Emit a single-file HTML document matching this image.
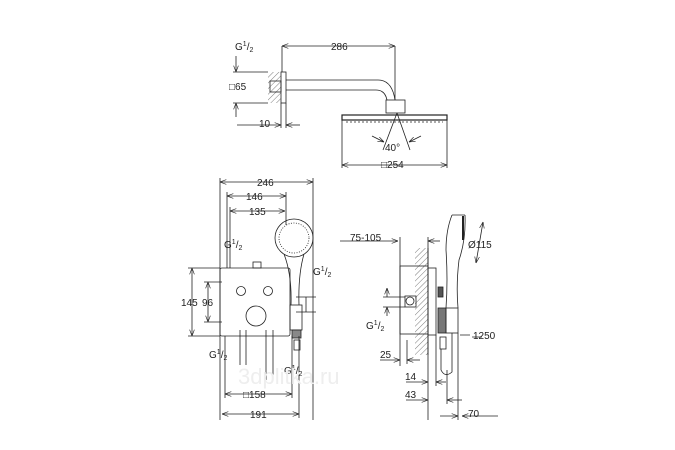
<!DOCTYPE html>
<html><head><meta charset="utf-8"><style>
html,body{margin:0;padding:0;background:#fff}
svg{display:block}
text{font-family:"Liberation Sans",sans-serif;font-size:10px;fill:#222}
</style></head><body>
<svg width="675" height="450" viewBox="0 0 675 450" xmlns="http://www.w3.org/2000/svg">
<defs>
<marker id="a" markerWidth="8" markerHeight="6" refX="8" refY="3" orient="auto-start-reverse"><path d="M0,0 L8,3 L0,6" fill="none" stroke="#222" stroke-width="0.8"/></marker>
<pattern id="h" width="4" height="4" patternUnits="userSpaceOnUse" patternTransform="rotate(45)"><line x1="0" y1="0" x2="0" y2="4" stroke="#444" stroke-width="0.7"/></pattern>
</defs>
<g stroke="#222" stroke-width="0.8" fill="none">
<!-- TOP VIEW -->
<rect x="268" y="72" width="13" height="31" fill="url(#h)" stroke="none"/>
<rect x="281" y="72" width="5" height="31"/>
<rect x="270" y="81" width="11" height="11"/>
<path d="M286,80 H378 Q392,80 395,100 M286,90 H376 Q385,90 387,100"/>
<rect x="386" y="100" width="19" height="13"/>
<rect x="342" y="115" width="105" height="5" stroke-width="1.2"/>
<path d="M346,122 H443" stroke-dasharray="2,2"/>
<line x1="282" y1="46" x2="395" y2="46" marker-start="url(#a)" marker-end="url(#a)"/>
<path d="M282,46 V72 M395,46 V100"/>
<path d="M233,72 H268 M233,103 H268"/>
<line x1="236" y1="56" x2="236" y2="72" marker-end="url(#a)"/>
<line x1="236" y1="103" x2="236" y2="117" marker-start="url(#a)"/>
<line x1="237" y1="125" x2="281" y2="125" marker-end="url(#a)"/><line x1="286" y1="125" x2="300" y2="125" marker-start="url(#a)"/>
<path d="M281,103 V128 M286,103 V128"/>
<path d="M397,113 L383,150 M397,113 L410,150"/>
<line x1="372" y1="136" x2="384" y2="142" marker-end="url(#a)"/>
<line x1="421" y1="136" x2="409" y2="142" marker-end="url(#a)"/>
<line x1="342" y1="165" x2="447" y2="165" marker-start="url(#a)" marker-end="url(#a)"/>
<path d="M342,120 V168 M447,120 V168"/>
<!-- MIDDLE VIEW -->
<rect x="220" y="268" width="70" height="68" rx="2"/>
<rect x="253" y="262" width="8" height="6"/>
<circle cx="241" cy="291" r="4.5"/><circle cx="268" cy="291" r="4.5"/>
<circle cx="256" cy="316" r="10"/>
<circle cx="294" cy="238" r="19"/><circle cx="294" cy="238" r="15" stroke-dasharray="1,1.5"/>
<path d="M284,254 Q292,275 291,305 M304,254 Q298,275 299,305"/>
<rect x="290" y="305" width="12" height="25"/>
<rect x="292" y="330" width="9" height="8" fill="#888"/>
<rect x="294" y="340" width="6" height="10"/>
<line x1="220" y1="182" x2="313" y2="182" marker-start="url(#a)" marker-end="url(#a)"/>
<line x1="227" y1="196" x2="286" y2="196" marker-start="url(#a)" marker-end="url(#a)"/>
<line x1="230" y1="211" x2="285" y2="211" marker-start="url(#a)" marker-end="url(#a)"/>
<path d="M220,178 V420 M227,192 V268 M230,207 V268 M313,178 V420 M286,192 V225"/>
<line x1="192" y1="268" x2="192" y2="336" marker-start="url(#a)" marker-end="url(#a)"/>
<line x1="208" y1="282" x2="208" y2="322" marker-start="url(#a)" marker-end="url(#a)"/>
<path d="M188,268 H220 M188,336 H220 M204,282 H222 M204,322 H222"/>
<line x1="225" y1="394" x2="292" y2="394" marker-start="url(#a)" marker-end="url(#a)"/>
<line x1="222" y1="414" x2="299" y2="414" marker-start="url(#a)" marker-end="url(#a)"/>
<path d="M225,336 V398 M292,336 V398 M299,336 V418 M240,330 V365 M246,330 V365 M266,330 V380 M273,330 V380"/>
<path d="M306,297 V312 M296,297 H316 M296,312 H316"/>
<!-- RIGHT VIEW -->
<rect x="415" y="248" width="13" height="107" fill="url(#h)" stroke="none"/>
<path d="M428,248 V355"/>
<rect x="400" y="266" width="28" height="68"/>
<rect x="428" y="268" width="8" height="67"/>
<rect x="405" y="296" width="11" height="11"/>
<circle cx="410" cy="301" r="4"/>
<rect x="438" y="287" width="5" height="10" fill="#555"/>
<rect x="438" y="308" width="8" height="25" fill="#777"/>
<rect x="446" y="308" width="12" height="25"/>
<path d="M452,215 Q446,230 446,250 Q448,280 446,308 M465,215 Q466,240 459,260 Q456,285 458,308 M452,215 H465"/>
<path d="M463,216 V240" stroke-width="2"/>
<rect x="440" y="337" width="6" height="12"/>
<path d="M441,349 V370 Q445,378 452,372 V333"/>
<line x1="483" y1="222" x2="476" y2="263" marker-start="url(#a)" marker-end="url(#a)"/>
<line x1="340" y1="241" x2="398" y2="241" marker-end="url(#a)"/><line x1="428" y1="241" x2="440" y2="241" marker-start="url(#a)"/>
<path d="M400,237 V366 M428,237 V420 M460,335 H470 M472,337 H482"/>
<line x1="387" y1="288" x2="387" y2="297" marker-start="url(#a)"/><line x1="387" y1="307" x2="387" y2="316" marker-start="url(#a)"/>
<path d="M383,297 H405 M383,307 H405"/>
<line x1="380" y1="360" x2="400" y2="360" marker-end="url(#a)"/><line x1="407" y1="360" x2="420" y2="360" marker-start="url(#a)"/>
<path d="M407,340 V364"/>
<line x1="406" y1="382" x2="428" y2="382" marker-end="url(#a)"/><line x1="436" y1="382" x2="446" y2="382" marker-start="url(#a)"/>
<path d="M436,335 V386"/>
<line x1="406" y1="400" x2="428" y2="400" marker-end="url(#a)"/><line x1="447" y1="400" x2="462" y2="400" marker-start="url(#a)"/>
<path d="M447,370 V404 M458,333 V420"/>
<line x1="440" y1="416" x2="458" y2="416" marker-end="url(#a)"/><line x1="462" y1="416" x2="498" y2="416" marker-start="url(#a)"/>
</g>
<g>
<text x="235" y="50">G<tspan font-size="7" dy="-4">1</tspan><tspan dy="4">/</tspan><tspan font-size="7" dy="2">2</tspan></text>
<text x="229" y="90">□65</text>
<text x="331" y="50" fill="#222">286</text>
<text x="259" y="127">10</text>
<text x="385" y="151">40°</text>
<text x="381" y="168">□254</text>
<text x="257" y="186">246</text>
<text x="246" y="200">146</text>
<text x="249" y="215">135</text>
<text x="224" y="248">G<tspan font-size="7" dy="-4">1</tspan><tspan dy="4">/</tspan><tspan font-size="7" dy="2">2</tspan></text>
<text x="313" y="275">G<tspan font-size="7" dy="-4">1</tspan><tspan dy="4">/</tspan><tspan font-size="7" dy="2">2</tspan></text>
<text x="181" y="306">145</text><text x="202" y="306">96</text>
<text x="209" y="358">G<tspan font-size="7" dy="-4">1</tspan><tspan dy="4">/</tspan><tspan font-size="7" dy="2">2</tspan></text>
<text x="284" y="374">G<tspan font-size="7" dy="-4">1</tspan><tspan dy="4">/</tspan><tspan font-size="7" dy="2">2</tspan></text>
<text x="243" y="398">□158</text>
<text x="250" y="418">191</text>
<text x="350" y="241">75-105</text>
<text x="468" y="248">Ø115</text>
<text x="366" y="329">G<tspan font-size="7" dy="-4">1</tspan><tspan dy="4">/</tspan><tspan font-size="7" dy="2">2</tspan></text>
<text x="473" y="339">1250</text>
<text x="380" y="358">25</text>
<text x="405" y="380">14</text>
<text x="405" y="398">43</text>
<text x="468" y="417">70</text>
<text x="238" y="384" style="font-size:22px;fill:#eeeeee">3dplitka.ru</text>
</g>
</svg>
</body></html>
